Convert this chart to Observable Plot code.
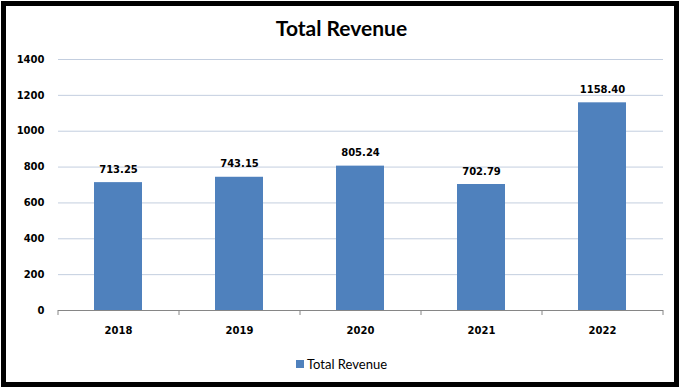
<!DOCTYPE html>
<html><head><meta charset="utf-8">
<script src="https://cdn.jsdelivr.net/npm/d3@7"></script>
<script src="https://cdn.jsdelivr.net/npm/@observablehq/plot@0.6"></script>
<style>
html,body{margin:0;padding:0;background:#fff;}
#wrap{position:relative;width:683px;height:390px;overflow:hidden;background:#fff;}
#frame{position:absolute;left:1px;top:1px;width:668px;height:376px;border:5px solid #000;}
#title{position:absolute;left:0;top:15px;width:683px;text-align:center;font:bold 21px Lato,"Open Sans",sans-serif;color:#000;}
#chart{position:absolute;left:0;top:40px;}
#legend{position:absolute;left:296px;top:356px;font:13px Lato,"Open Sans",sans-serif;color:#000;display:flex;align-items:center;}
#legend span.sw{display:inline-block;width:8px;height:8px;background:#4F81BD;margin-right:3px;}
</style></head>
<body><div id="wrap"><div id="frame"></div><div id="title">Total Revenue</div><div id="chart"></div>
<div id="legend"><span class="sw"></span><span>Total Revenue</span></div></div>
<script>
const years = ["2018","2019","2020","2021","2022"];
const revenue = [713.25, 743.15, 805.24, 702.79, 1158.40];
const yTicks = [0,200,400,600,800,1000,1200,1400];

const data = years.map((y,i)=>({year:y, value:revenue[i]}));
const step = 605/5;
const chart = Plot.plot({
  width: 683, height: 305,
  marginLeft: 58, marginRight: 20, marginTop: 19, marginBottom: 35,
  style: {fontFamily: "DejaVu Sans", fontSize: "10px", fontWeight: "bold", color: "#000", background: "transparent"},
  x: {domain: years, paddingInner: 0.6, paddingOuter: 0.3, label: null},
  y: {domain: [0,1400], label: null},
  marks: [
    Plot.gridY(yTicks.filter(d=>d>0), {stroke: "#C3CEDF", strokeOpacity: 1}),
    Plot.barY(data, {x: "year", y: "value", fill: "#4F81BD"}),
    Plot.ruleY([0], {stroke: "#868686"}),
    Plot.ruleX(years, {x: d=>d, y1: 0, y2: 0, insetBottom: -5, dx: -step/2, stroke: "#868686"}),
    Plot.ruleX(years.slice(-1), {x: d=>d, y1: 0, y2: 0, insetBottom: -5, dx: step/2, stroke: "#868686"}),
    Plot.axisY({ticks: yTicks, tickSize: 0, tickPadding: 14, tickFormat: d=>String(d), fontWeight: "bold"}),
    Plot.axisX({tickSize: 0, tickPadding: 16, fontWeight: "bold"}),
    Plot.text(data, {x: "year", y: "value", text: d=>d.value.toFixed(2), dy: -13, fontWeight: "bold", fontSize: 10, fill: "#000"})
  ]
});
document.getElementById("chart").appendChild(chart);
</script></body></html>
